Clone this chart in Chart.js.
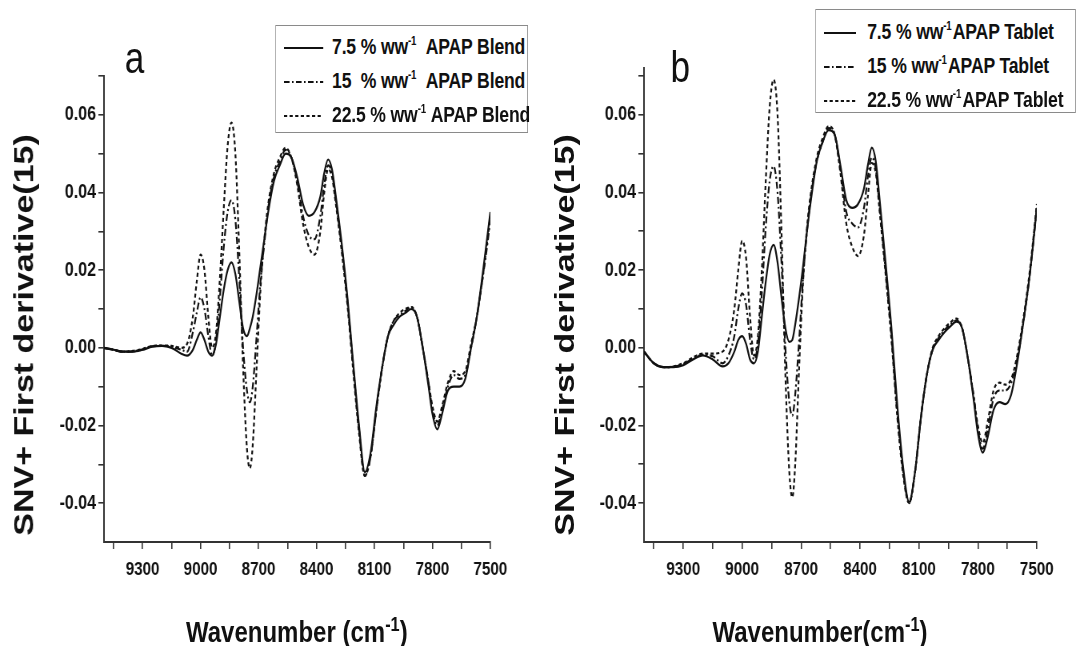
<!DOCTYPE html>
<html>
<head>
<meta charset="utf-8">
<script src="https://cdn.jsdelivr.net/npm/chart.js@4.4.1/dist/chart.umd.min.js"></script>
<style>
  html, body { margin:0; padding:0; background:#fff; overflow:hidden; width:1080px; height:646px; }
  #stage { position:absolute; left:0; top:0; width:1350px; height:646px; transform:scaleX(0.8); transform-origin:0 0; }
  canvas { position:absolute; top:0; }
  .t { position:absolute; font-family:"Liberation Sans", Arial, sans-serif; color:#111; white-space:nowrap; }
  .ytitle { width:520px; height:40px; line-height:40px; text-align:center; font-weight:bold; font-size:34px; transform:rotate(-90deg); }
  .xtitle { width:400px; height:36px; line-height:36px; text-align:center; font-weight:bold; font-size:30px; }
  .xtitle .sup { font-size:0.68em; vertical-align:0.55em; line-height:0; }
  .panel { font-size:44px; line-height:44px; }
  .legend { position:absolute; border:1.5px solid #8a8a8a; background:#fff; font-family:"Liberation Sans", Arial, sans-serif; font-weight:bold; font-size:22px; color:#111; box-sizing:border-box; }
  .row { position:absolute; left:0; height:34px; line-height:34px; white-space:nowrap; }
  .row svg { position:absolute; top:0; }
  .row span.txt { position:absolute; top:0; letter-spacing:-0.2px; }
  .row .sup { font-size:0.55em; vertical-align:0.75em; line-height:0; }
</style>
</head>
<body>
<div id="stage">
  <canvas id="ca" width="675" height="646" style="left:0"></canvas>
  <canvas id="cb" width="675" height="646" style="left:675px"></canvas>

  <div class="t ytitle" style="left:-231px; top:315px;">SNV+ First derivative(15)</div>
  <div class="t ytitle" style="left:445px; top:315px;">SNV+ First derivative(15)</div>

  <div class="t xtitle" style="left:171px; top:614px;">Wavenumber (cm<span class="sup">-1</span>)</div>
  <div class="t xtitle" style="left:825px; top:614px;">Wavenumber(cm<span class="sup">-1</span>)</div>

  <div class="t panel" style="left:156px; top:36px;">a</div>
  <div class="t panel" style="left:838px; top:45px;">b</div>

  <div class="legend" id="lega" style="left:344px; top:25px; width:316px; height:108px;"></div>
  <div class="legend" id="legb" style="left:1019px; top:9px; width:326px; height:104px;"></div>
</div>

<script>
// ---------------- data ----------------
const WAVENUMBERS = [9500, 9450, 9400, 9350, 9300, 9250, 9200, 9150, 9100,
  9070, 9040, 9020, 9000, 8980, 8960, 8940, 8920, 8900,
  8880, 8860, 8840, 8820, 8800, 8780, 8760, 8745, 8730, 8710,
  8690, 8670, 8650, 8620, 8590, 8560, 8530, 8500, 8470, 8440,
  8410, 8380, 8360, 8340, 8320, 8300, 8270, 8240, 8210, 8180,
  8150, 8120, 8090, 8060, 8030, 8000, 7970, 7940, 7910, 7880,
  7850, 7820, 7800, 7775, 7750, 7720, 7690, 7660, 7630, 7600,
  7570, 7540, 7520, 7500];

// Panel a: blends
const BLEND_7_5 = [0.000, -0.0005, -0.001, -0.001, -0.0005, 0.0003, 0.0005, 0.000, -0.0015,
  -0.002, -0.0005, 0.002, 0.004, 0.002, -0.001, -0.002, 0.001, 0.008,
  0.015, 0.020, 0.022, 0.019, 0.012, 0.005, 0.003, 0.005, 0.008, 0.014,
  0.021, 0.028, 0.035, 0.043, 0.047, 0.050, 0.049, 0.044, 0.037, 0.034,
  0.035, 0.039, 0.045, 0.0485, 0.046, 0.039, 0.027, 0.013, -0.004, -0.020,
  -0.032, -0.027, -0.015, -0.005, 0.003, 0.006, 0.008, 0.009, 0.010, 0.008,
  0.000, -0.010, -0.017, -0.021, -0.017, -0.011, -0.010, -0.010, -0.008, 0.000,
  0.008, 0.019, 0.027, 0.035];
const BLEND_15 = [0.000, -0.0005, -0.001, -0.0009, -0.0004, 0.0004, 0.0005, 0.0003, -0.0005,
  -0.001, 0.004, 0.009, 0.013, 0.010, 0.003, -0.002, 0.002, 0.013,
  0.026, 0.035, 0.038, 0.033, 0.018, 0.000, -0.011, -0.014, -0.010, 0.003,
  0.017, 0.027, 0.036, 0.044, 0.048, 0.051, 0.049, 0.043, 0.034, 0.029,
  0.028, 0.034, 0.042, 0.047, 0.045, 0.038, 0.026, 0.012, -0.005, -0.021,
  -0.033, -0.028, -0.016, -0.005, 0.003, 0.007, 0.0085, 0.0095, 0.0105, 0.008,
  0.000, -0.009, -0.016, -0.020, -0.016, -0.010, -0.007, -0.008, -0.007, 0.000,
  0.008, 0.018, 0.025, 0.033];
const BLEND_22_5 = [0.000, -0.0005, -0.001, -0.0008, -0.0003, 0.0005, 0.0006, 0.0005, 0.000,
  0.001, 0.008, 0.017, 0.024, 0.020, 0.008, 0.000, 0.004, 0.018,
  0.036, 0.052, 0.058, 0.050, 0.025, -0.005, -0.026, -0.031, -0.025, -0.005,
  0.015, 0.028, 0.037, 0.045, 0.049, 0.0515, 0.049, 0.042, 0.032, 0.026,
  0.024, 0.030, 0.040, 0.046, 0.044, 0.037, 0.025, 0.011, -0.006, -0.022,
  -0.033, -0.028, -0.016, -0.005, 0.003, 0.007, 0.009, 0.010, 0.0105, 0.008,
  0.000, -0.009, -0.015, -0.019, -0.015, -0.009, -0.006, -0.007, -0.006, 0.001,
  0.008, 0.018, 0.026, 0.034];

// Panel b: tablets
const TABLET_7_5 = [-0.001, -0.004, -0.005, -0.005, -0.0045, -0.003, -0.002, -0.003, -0.0048,
  -0.004, -0.001, 0.002, 0.003, 0.001, -0.003, -0.004, -0.001, 0.008,
  0.017, 0.024, 0.0265, 0.022, 0.013, 0.005, 0.0015, 0.002, 0.006, 0.013,
  0.021, 0.030, 0.038, 0.048, 0.053, 0.056, 0.055, 0.047, 0.038, 0.036,
  0.037, 0.041, 0.047, 0.0515, 0.048, 0.038, 0.022, 0.005, -0.015, -0.031,
  -0.0397, -0.032, -0.018, -0.007, -0.0005, 0.002, 0.004, 0.0055, 0.0067, 0.005,
  -0.003, -0.014, -0.022, -0.027, -0.023, -0.016, -0.014, -0.0145, -0.012, -0.004,
  0.006, 0.017, 0.026, 0.036];
const TABLET_15 = [-0.001, -0.004, -0.005, -0.0049, -0.0042, -0.0028, -0.0018, -0.0022, -0.004,
  -0.002, 0.003, 0.010, 0.014, 0.011, 0.002, -0.003, 0.001, 0.014,
  0.031, 0.043, 0.0467, 0.040, 0.022, 0.000, -0.014, -0.0175, -0.012, 0.002,
  0.018, 0.030, 0.039, 0.048, 0.053, 0.0565, 0.055, 0.046, 0.035, 0.032,
  0.031, 0.036, 0.044, 0.049, 0.046, 0.036, 0.020, 0.003, -0.017, -0.032,
  -0.040, -0.032, -0.018, -0.007, -0.0005, 0.0025, 0.0045, 0.006, 0.007, 0.005,
  -0.003, -0.013, -0.021, -0.026, -0.021, -0.013, -0.011, -0.011, -0.009, -0.003,
  0.006, 0.017, 0.026, 0.036];
const TABLET_22_5 = [-0.001, -0.004, -0.005, -0.0048, -0.004, -0.0025, -0.0015, -0.0015, -0.001,
  0.002, 0.010, 0.020, 0.0275, 0.023, 0.008, -0.002, 0.003, 0.020,
  0.043, 0.062, 0.069, 0.060, 0.030, -0.007, -0.032, -0.0385, -0.030, -0.005,
  0.017, 0.031, 0.040, 0.049, 0.054, 0.057, 0.055, 0.045, 0.032, 0.026,
  0.0236, 0.029, 0.039, 0.0475, 0.045, 0.035, 0.019, 0.002, -0.018, -0.033,
  -0.040, -0.032, -0.018, -0.007, 0.000, 0.003, 0.005, 0.0065, 0.0075, 0.005,
  -0.003, -0.013, -0.020, -0.0245, -0.019, -0.011, -0.009, -0.0095, -0.008, -0.002,
  0.007, 0.018, 0.027, 0.037];

// axes
const X_TICKS = [9450, 9300, 9150, 9000, 8850, 8700, 8550, 8400, 8250, 8100, 7950, 7800, 7650, 7500];
const X_LABELED = [9300, 9000, 8700, 8400, 8100, 7800, 7500];
const Y_TICKS = [-0.04, -0.03, -0.02, -0.01, 0.00, 0.01, 0.02, 0.03, 0.04, 0.05, 0.06, 0.07];
const Y_LABELED = [-0.04, -0.02, 0.00, 0.02, 0.04, 0.06];
const Y_LABEL_TEXT = ['-0.04', '-0.02', '0.00', '0.02', '0.04', '0.06'];

const SUP = '<span class="sup">-1</span>';
const BLEND_LABELS = ['7.5 % ww' + SUP + '&nbsp;&nbsp;APAP Blend', '15&nbsp;&nbsp;% ww' + SUP + '&nbsp;&nbsp;APAP Blend', '22.5 % ww' + SUP + '&nbsp;APAP Blend'];
const TABLET_LABELS = ['7.5 % ww' + SUP + '&#8202;APAP Tablet', '15 % ww' + SUP + '&#8202;APAP Tablet', '22.5 % ww' + SUP + '&#8202;APAP Tablet'];

// ---------------- styles ----------------
const LINE_COLOR = '#111111';
const DASHES = [[], [7, 3, 2, 3], [4, 3]];
const FONT = '"Liberation Sans", Arial, sans-serif';

function points(vals) { return WAVENUMBERS.map((w, i) => ({ x: w, y: vals[i] })); }

function makeChart(id, series, yMin, yMax, pad) {
  const datasets = series.map((s, k) => ({
    label: 'series' + k,
    data: points(s),
    borderColor: LINE_COLOR,
    borderWidth: 2.2,
    borderDash: DASHES[k],
    pointRadius: 0,
    fill: false,
    cubicInterpolationMode: 'monotone'
  }));
  return new Chart(document.getElementById(id), {
    type: 'line',
    data: { datasets },
    options: {
      responsive: false,
      animation: false,
      devicePixelRatio: 1,
      layout: { padding: pad },
      plugins: { legend: { display: false }, tooltip: { enabled: false } },
      scales: {
        x: {
          type: 'linear', min: 7500, max: 9500, reverse: true,
          afterBuildTicks: (sc) => { sc.ticks = X_TICKS.map(v => ({ value: v })); },
          afterFit: (sc) => { sc.height = 104; },
          ticks: {
            autoSkip: false, maxRotation: 0, padding: 9,
            color: '#111', font: { family: FONT, size: 19, weight: 'bold' },
            callback: (v) => X_LABELED.includes(v) ? String(v) : ''
          },
          grid: { drawOnChartArea: false, drawTicks: true, tickLength: 7, color: '#333', lineWidth: 1.6 },
          border: { display: true, color: '#333', width: 2 }
        },
        y: {
          type: 'linear', min: yMin, max: yMax,
          afterBuildTicks: (sc) => { sc.ticks = Y_TICKS.map(v => ({ value: v })); },
          afterFit: (sc) => { sc.width = 130; },
          ticks: {
            autoSkip: false, padding: 3,
            color: '#111', font: { family: FONT, size: 20, weight: 'bold' },
            callback: (v) => {
              const i = Y_LABELED.findIndex(t => Math.abs(t - v) < 1e-9);
              return i >= 0 ? Y_LABEL_TEXT[i] : '';
            }
          },
          grid: { drawOnChartArea: false, drawTicks: true, tickLength: 7, color: '#333', lineWidth: 1.6 },
          border: { display: true, color: '#333', width: 2 }
        }
      }
    }
  });
}

makeChart('ca', [BLEND_7_5, BLEND_15, BLEND_22_5], -0.05, 0.07, { left: 0, right: 62, top: 76, bottom: 0 });
makeChart('cb', [TABLET_7_5, TABLET_15, TABLET_22_5], -0.05, 0.072, { left: 0, right: 54, top: 68, bottom: 0 });

function buildLegend(id, labels, sampleLeft, sampleLen, textLeft, rowTop) {
  const box = document.getElementById(id);
  labels.forEach((lab, k) => {
    const row = document.createElement('div');
    row.className = 'row';
    row.style.top = (rowTop + k * 34) + 'px';
    row.style.width = '100%';
    const dash = DASHES[k].length ? DASHES[k].join(' ') : 'none';
    row.innerHTML = '<svg width="' + (sampleLeft + sampleLen + 2) + '" height="34" style="left:0">' +
      '<line x1="' + sampleLeft + '" y1="18" x2="' + (sampleLeft + sampleLen) + '" y2="18" stroke="' + LINE_COLOR +
      '" stroke-width="2.2" stroke-dasharray="' + dash + '"/></svg>' +
      '<span class="txt" style="left:' + textLeft + 'px">' + lab + '</span>';
    box.appendChild(row);
  });
}
buildLegend('lega', BLEND_LABELS, 10, 49, 70, 4);
buildLegend('legb', TABLET_LABELS, 10, 40, 64, 5);
</script>
</body>
</html>
